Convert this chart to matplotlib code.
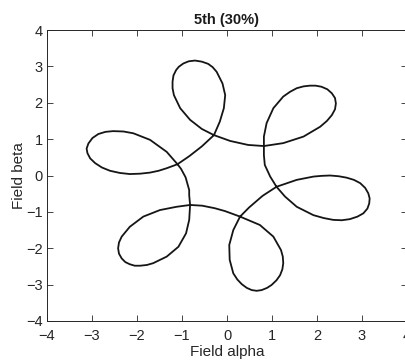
import matplotlib
matplotlib.use('Agg')
import numpy as np
from matplotlib import pyplot as plt

plt.rcParams['font.family'] = ['Liberation Sans', 'DejaVu Sans']

# flux locus in the alpha-beta plane, fundamental + 30% 5th harmonic
alpha = [-0.82, -0.84, -0.84, -0.92, -1.02, -1.10,
         -1.34, -1.71, -2.08, -2.30, -2.53, -2.70, -2.86, -2.99, -3.08, -3.12, -3.10, -3.04, -2.93,
         -2.78, -2.60, -2.38, -2.16, -1.93, -1.71, -1.52, -1.34, -1.10,
         -0.84, -0.56, -0.29,
         -0.16, -0.07, -0.04, -0.10, -0.23, -0.32, -0.42, -0.56, -0.71, -0.85, -0.97, -1.07, -1.13,
         -1.19, -1.21, -1.21, -1.18, -1.04, -0.82, -0.56, -0.29,
         0.07, 0.47, 0.82,
         1.25, 1.70, 2.07, 2.22, 2.33, 2.40, 2.42, 2.40, 2.33, 2.23, 2.10, 1.97, 1.84, 1.70, 1.55,
         1.40, 1.25, 1.03, 0.88, 0.82, 0.82,
         0.82, 0.84, 0.96, 1.10,
         1.29, 1.55, 1.92, 2.15, 2.36, 2.55, 2.73, 2.90, 3.03, 3.12, 3.16, 3.17, 3.14, 3.07, 2.96,
         2.82, 2.66, 2.48, 2.29, 2.10, 1.92, 1.55, 1.10,
         0.79, 0.49, 0.29,
         0.14, 0.05, 0.06, 0.14, 0.23, 0.33, 0.44, 0.55, 0.66, 0.77, 0.89, 0.99, 1.10, 1.18, 1.23,
         1.25, 1.24, 1.20, 1.03, 0.73, 0.29,
         -0.04, -0.27, -0.55, -0.82,
         -1.12, -1.49, -1.86, -2.16, -2.34, -2.40, -2.42, -2.40, -2.34, -2.26, -2.16, -2.05, -1.93,
         -1.78, -1.64, -1.34, -1.08, -0.91, -0.84, -0.82]
beta = [-0.81, -0.54, -0.40, -0.05, 0.18, 0.31,
        0.65, 0.98, 1.16, 1.21, 1.22, 1.20, 1.14, 1.03, 0.88, 0.74, 0.61, 0.47, 0.34,
        0.22, 0.13, 0.07, 0.04, 0.05, 0.08, 0.13, 0.20, 0.31,
        0.53, 0.80, 1.11,
        1.48, 1.85, 2.21, 2.53, 2.85, 2.98, 3.07, 3.13, 3.16, 3.14, 3.08, 2.99, 2.90,
        2.75, 2.58, 2.40, 2.21, 1.85, 1.53, 1.28, 1.11,
        0.95, 0.84, 0.81,
        0.89, 1.07, 1.34, 1.50, 1.66, 1.82, 1.98, 2.13, 2.26, 2.37, 2.44, 2.47, 2.47, 2.45, 2.40,
        2.30, 2.17, 1.85, 1.44, 1.07, 0.81,
        0.56, 0.29, -0.03, -0.31,
        -0.58, -0.86, -1.09, -1.17, -1.22, -1.23, -1.20, -1.13, -1.04, -0.91, -0.77, -0.63, -0.49, -0.34, -0.21,
        -0.12, -0.06, -0.02, 0.00, -0.01, -0.03, -0.12, -0.31,
        -0.56, -0.88, -1.13,
        -1.50, -1.91, -2.32, -2.69, -2.86, -2.99, -3.09, -3.15, -3.17, -3.15, -3.09, -3.01, -2.88, -2.74, -2.58,
        -2.41, -2.23, -2.05, -1.68, -1.36, -1.13,
        -0.98, -0.90, -0.83, -0.81,
        -0.86, -0.95, -1.13, -1.41, -1.68, -1.84, -2.00, -2.15, -2.28, -2.38, -2.44, -2.48, -2.48,
        -2.46, -2.41, -2.23, -1.96, -1.59, -1.22, -0.81]
ticks = np.arange(-4, 5)

fig = plt.figure(figsize=(4.05, 3.64), dpi=100)
ax = fig.add_axes([47/405, 43/364, 360/405, 291/364])
ax.plot(alpha, beta, color='#151515', linewidth=1.3, solid_joinstyle='round')

ax.set_xlim(-4, 4)
ax.set_ylim(-4, 4)
ax.set_xticks(ticks)
ax.set_yticks(ticks)
ax.tick_params(direction='in', top=True, right=True, length=4, width=0.6,
               labelsize=10.5, colors='#262626', pad=3)
ax.tick_params(axis='x', pad=6)
for s in ax.spines.values():
    s.set_color('#262626')
    s.set_linewidth(0.7)

ax.set_xlabel('Field alpha', fontsize=11, color='#262626', labelpad=1)
ax.set_ylabel('Field beta', fontsize=11, color='#262626', labelpad=0)
ax.set_title('5th (30%)', fontsize=10.5, fontweight='bold', color='#1a1a1a', pad=4)

fig.savefig('out.png', dpi=100)
